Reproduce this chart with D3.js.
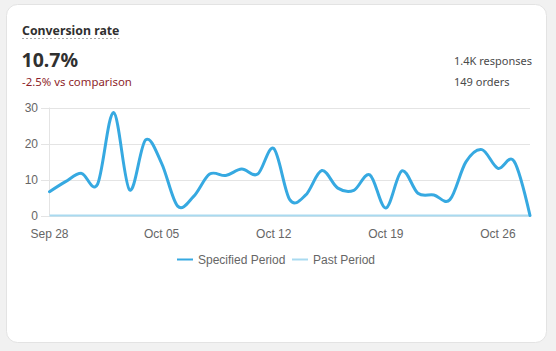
<!DOCTYPE html>
<html>
<head>
<meta charset="utf-8">
<script src="https://cdn.jsdelivr.net/npm/d3@7"></script>
<style>
  html, body { margin: 0; padding: 0; background: #f1f1f1; }
  body { width: 556px; height: 351px; overflow: hidden; }
  svg { display: block; }
</style>
</head>
<body>
<svg id="chart" width="556" height="351"></svg>
<script>
// ---- data ----
const dates = [
  "2023-09-28","2023-09-29","2023-09-30","2023-10-01","2023-10-02","2023-10-03","2023-10-04",
  "2023-10-05","2023-10-06","2023-10-07","2023-10-08","2023-10-09","2023-10-10","2023-10-11",
  "2023-10-12","2023-10-13","2023-10-14","2023-10-15","2023-10-16","2023-10-17","2023-10-18",
  "2023-10-19","2023-10-20","2023-10-21","2023-10-22","2023-10-23","2023-10-24","2023-10-25",
  "2023-10-26","2023-10-27","2023-10-28"
];
const specifiedValues = [
  6.6, 9.4, 11.7, 8.7, 28.6, 7.1, 21.0,
  14.5, 2.6, 5.3, 11.5, 11.1, 12.9, 11.5,
  18.6, 4.4, 5.7, 12.5, 7.6, 7.0, 11.3,
  2.1, 12.4, 6.2, 5.7, 4.4, 14.9, 18.3,
  13.1, 15.1, 0
];
const pastValues = dates.map(() => 0);
const yTicks = [0, 10, 20, 30];
const xTickDates = ["2023-09-28","2023-10-05","2023-10-12","2023-10-19","2023-10-26"];
const seriesNames = ["Specified Period", "Past Period"];
const seriesColors = ["#36a9e1", "#a9daf0"];
const title = "Conversion rate";
const headline = "10.7%";
const delta = "-2.5% vs comparison";
const sideStats = ["1.4K responses", "149 orders"];

// ---- drawing ----
const svg = d3.select("#chart");
const parse = d3.timeParse("%Y-%m-%d");
const fmt = d3.timeFormat("%b %d");
const font = "'Noto Sans', 'Open Sans', sans-serif";
const axisFont = "'Liberation Sans', Arial, sans-serif";

// card
svg.append("rect")
  .attr("x", 6.5).attr("y", 4.5).attr("width", 540).attr("height", 338)
  .attr("rx", 11).attr("fill", "#ffffff").attr("stroke", "#e3e3e3");

// header texts
const t = svg.append("text").attr("x", 22).attr("y", 35)
  .attr("font-family", font).attr("font-size", 12.3).attr("font-weight", 700)
  .attr("fill", "#303030").text(title);
const tw = t.node().getComputedTextLength();
svg.append("line").attr("x1", 22).attr("x2", 22 + tw).attr("y1", 38.5).attr("y2", 38.5)
  .attr("stroke", "#a8a8a8").attr("stroke-dasharray", "2,2").attr("stroke-width", 1);

svg.append("text").attr("x", 21.5).attr("y", 67)
  .attr("font-family", font).attr("font-size", 19.5).attr("font-weight", 700)
  .attr("fill", "#303030").text(headline);
svg.append("text").attr("x", 22).attr("y", 86)
  .attr("font-family", font).attr("font-size", 11.4)
  .attr("fill", "#8e1f2b").text(delta);
sideStats.forEach((s, i) => {
  svg.append("text").attr("x", 454).attr("y", 65 + i * 20.5)
    .attr("font-family", font).attr("font-size", 11)
    .attr("fill", "#4a4a4a").text(s);
});

// scales
const x = d3.scaleTime()
  .domain([parse(dates[0]), parse(dates[dates.length - 1])])
  .range([49.5, 530]);
const y = d3.scaleLinear().domain([0, 30]).range([215.5, 107.5]);

// grid
const g = svg.append("g");
g.selectAll("line.grid").data(yTicks).join("line")
  .attr("class", "grid")
  .attr("x1", 41).attr("x2", 530)
  .attr("y1", d => Math.round(y(d)) + 0.5).attr("y2", d => Math.round(y(d)) + 0.5)
  .attr("stroke", "#e4e4e4");
g.append("line").attr("x1", 49.5).attr("x2", 49.5).attr("y1", y(30)).attr("y2", y(0))
  .attr("stroke", "#e4e4e4");

// y labels
g.selectAll("text.yl").data(yTicks).join("text")
  .attr("class", "yl")
  .attr("x", 38).attr("y", d => y(d) + 4.5)
  .attr("text-anchor", "end")
  .attr("font-family", axisFont).attr("font-size", 12).attr("fill", "#666")
  .text(d => d);

// x labels
g.selectAll("text.xl").data(xTickDates).join("text")
  .attr("class", "xl")
  .attr("x", d => x(parse(d))).attr("y", 238)
  .attr("text-anchor", "middle")
  .attr("font-family", axisFont).attr("font-size", 12).attr("fill", "#666")
  .text(d => fmt(parse(d)));

// lines
const line = d3.line()
  .x((d, i) => x(parse(dates[i])))
  .y(d => y(d))
  .curve(d3.curveCardinal.tension(0));

svg.append("path").datum(pastValues)
  .attr("d", line).attr("fill", "none")
  .attr("stroke", seriesColors[1]).attr("stroke-width", 2);
svg.append("path").datum(specifiedValues)
  .attr("d", line).attr("fill", "none")
  .attr("stroke", seriesColors[0]).attr("stroke-width", 3)
  .attr("stroke-linejoin", "round").attr("stroke-linecap", "round");

// legend
const legendX = [177, 292];
seriesNames.forEach((n, i) => {
  svg.append("line").attr("x1", legendX[i]).attr("x2", legendX[i] + 16)
    .attr("y1", 259.5).attr("y2", 259.5)
    .attr("stroke", seriesColors[i]).attr("stroke-width", 2);
  svg.append("text").attr("x", legendX[i] + 21).attr("y", 263.5)
    .attr("font-family", axisFont).attr("font-size", 12).attr("fill", "#666")
    .text(n);
});
</script>
</body>
</html>
